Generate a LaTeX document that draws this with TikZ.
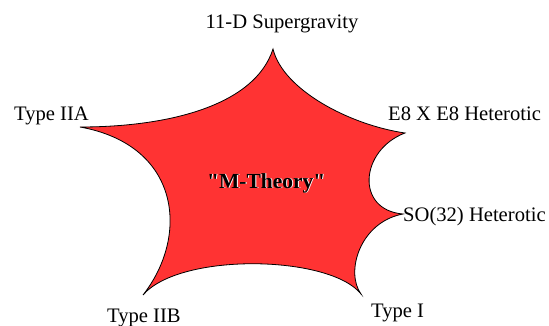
\documentclass[tikz,border=0pt]{standalone}
\usepackage{fontspec}
\setmainfont{Liberation Serif}[Ligatures=TeXOff]
\usepackage{xcolor}
\definecolor{StarRed}{HTML}{FF3333}
\definecolor{EdgeInk}{HTML}{000000}
\tikzset{
  theory/.style={font=\fontsize{20.6}{24}\selectfont,inner sep=0pt,anchor=base west},
  mlabel/.style={font=\fontsize{21.5}{25}\selectfont\bfseries,inner sep=0pt,anchor=base west}
}
\begin{document}
\begin{tikzpicture}[x=1pt,y=-1pt]
        \useasboundingbox (0,0) rectangle (549,326);
        % tips of the star
        \coordinate (sugra) at (273,49);
        \coordinate (eight) at (405,133);
        \coordinate (sothirty) at (403,214);
        \coordinate (typeone) at (361,294);
        \coordinate (twob) at (143,295);
        \coordinate (twoa) at (80,127);
        \draw[fill=StarRed,draw=EdgeInk,line width=0.8pt,line join=miter]
          (twoa) .. controls (170,127) and (255,105) .. (sugra)
          .. controls (283,90) and (350,125) .. (eight)
          .. controls (360,150) and (355,210) .. (sothirty)
          .. controls (360,222) and (345,272) .. (typeone)
          .. controls (330,255) and (180,252) .. (twob)
          .. controls (190,235) and (180,145) .. (twoa) -- cycle;
        % labels
        \node[theory,anchor=base] (sugralbl) at (282,29) {11-D Supergravity};
        \node[theory] (twoalbl) at (14,121) {Type IIA};
        \node[theory] (eightlbl) at (388,121) {E8 X E8 Heterotic};
        \node[theory] (solbl) at (403,222) {SO(32) Heterotic};
        \node[theory] (onelbl) at (371,317) {Type I};
        \node[theory] (twoblbl) at (107,322) {Type IIB};
        \node[mlabel,text=white] (mshadow) at (208,189) {"M-Theory"};
        \node[mlabel] (mtheory) at (207,188) {"M-Theory"};
      \end{tikzpicture}
\end{document}
